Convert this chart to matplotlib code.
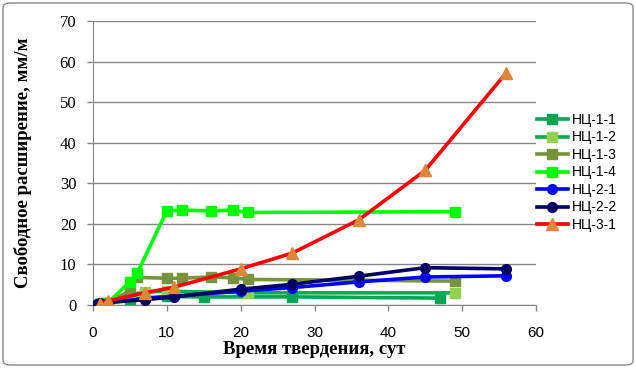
import matplotlib
matplotlib.use("Agg")
import matplotlib.pyplot as plt
from matplotlib.patches import FancyBboxPatch

# Data
x_11 = [1, 2, 5, 10, 15, 27, 47]
y_11 = [0.2, 0.4, 1.5, 2.1, 2.0, 2.0, 1.7]

x_12 = [1, 2, 5, 7, 10, 21, 49]
y_12 = [0.2, 0.5, 2.5, 3.2, 3.4, 3.0, 3.0]

x_13 = [1, 2, 5, 6, 10, 12, 16, 19, 21, 49]
y_13 = [0.2, 0.5, 3.5, 6.8, 6.6, 6.6, 6.9, 6.7, 6.3, 5.9]

x_14 = [1, 2, 5, 6, 10, 12, 16, 19, 21, 49]
y_14 = [0.2, 0.5, 5.7, 7.9, 23.2, 23.4, 23.2, 23.4, 22.8, 23.0]

x_21 = [1, 2, 7, 11, 20, 27, 36, 45, 56]
y_21 = [0.3, 0.6, 1.6, 2.2, 3.4, 4.3, 5.7, 6.9, 7.2]

x_22 = [0.5, 1, 7, 11, 20, 27, 36, 45, 56]
y_22 = [0.2, 0.5, 1.3, 2.0, 3.9, 5.1, 7.1, 9.2, 8.9]

x_31 = [1, 2, 7, 11, 20, 27, 36, 45, 56]
y_31 = [0.3, 1.0, 3.0, 4.4, 8.9, 12.8, 21.0, 33.2, 57.3]

labels = ["НЦ-1-1", "НЦ-1-2", "НЦ-1-3", "НЦ-1-4", "НЦ-2-1", "НЦ-2-2", "НЦ-3-1"]
x_ticks = [0, 10, 20, 30, 40, 50, 60]
y_ticks = [0, 10, 20, 30, 40, 50, 60, 70]

series = [
    (x_11, y_11, "#00A651", "#00A651", "s"),
    (x_12, y_12, "#00B050", "#92D050", "s"),
    (x_13, y_13, "#77933C", "#77933C", "s"),
    (x_14, y_14, "#00FF00", "#00FF00", "s"),
    (x_21, y_21, "#0000FF", "#0000FF", "o"),
    (x_22, y_22, "#000066", "#000066", "o"),
    (x_31, y_31, "#FF0000", "#E0863A", "^"),
]

fig = plt.figure(figsize=(6.36, 3.68), dpi=100)
ax = fig.add_axes([93/636, 1 - 305/368, (536-93)/636, (305-21)/368])

for (xs, ys, lc, mc, m), lab in zip(series, labels):
    ax.plot(xs, ys, color=lc, lw=2.6, marker=m, markersize=7 if m != "^" else 8,
            markerfacecolor=mc, markeredgecolor=mc, label=lab, zorder=3)

ax.set_xlim(0, 60)
ax.set_ylim(0, 70)
ax.set_xticks(x_ticks)
ax.set_yticks(y_ticks)
ax.yaxis.grid(True, color="#868686", lw=1)
ax.set_axisbelow(True)
for s in ["top", "right"]:
    ax.spines[s].set_visible(False)
for s in ["left", "bottom"]:
    ax.spines[s].set_color("#868686")
ax.tick_params(axis="both", colors="#868686", length=4, width=1)
ax.tick_params(axis="x", pad=11)
ax.tick_params(axis="y", pad=8)
for t in ax.get_yticklabels():
    t.set_fontfamily("Liberation Serif")
    t.set_fontsize(12)
    t.set_color("black")
for t in ax.get_xticklabels():
    t.set_fontfamily("Liberation Sans")
    t.set_fontsize(11)
    t.set_color("black")

ax.set_xlabel("Время твердения, сут", fontfamily="Liberation Serif", fontweight="bold",
              fontsize=13.5, labelpad=1)
ax.set_ylabel("Свободное расширение, мм/м", fontfamily="Liberation Serif", fontweight="bold",
              fontsize=13.5, labelpad=20)

leg = ax.legend(loc="upper left", bbox_to_anchor=(537/636, 1 - 113/368),
                bbox_transform=fig.transFigure, frameon=False,
                prop={"family": "Liberation Sans", "size": 10}, handlelength=2.2,
                handletextpad=0.3, labelspacing=0.25, borderaxespad=0.0, borderpad=0.0)

border = FancyBboxPatch((3/636, 3/368), 630/636, 362/368, boxstyle="round,pad=0,rounding_size=0.012",
                        transform=fig.transFigure, fill=False, edgecolor="#868686", lw=1)
fig.patches.append(border)

fig.savefig("out.png", dpi=100)
